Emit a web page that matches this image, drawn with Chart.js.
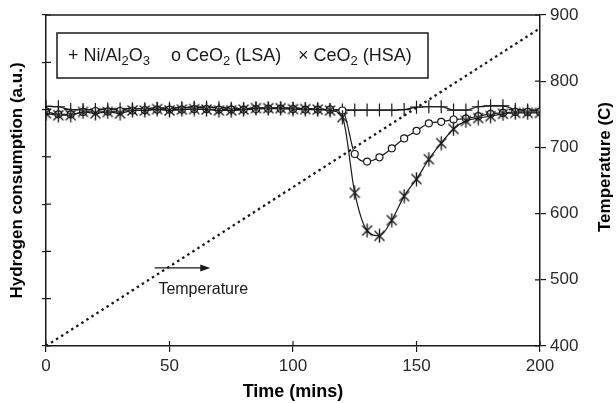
<!DOCTYPE html>
<html>
<head>
<meta charset="utf-8">
<script src="https://cdn.jsdelivr.net/npm/chart.js@4.4.1/dist/chart.umd.min.js"></script>
<style>
  html, body { margin: 0; padding: 0; background: #fff; }
  #wrap { width: 616px; height: 403px; }
</style>
</head>
<body>
<div id="wrap"><canvas id="tprChart"></canvas></div>
<script>
// time axis (mins), one reading every 5 minutes
const times = [0, 5, 10, 15, 20, 25, 30, 35, 40, 45, 50, 55, 60, 65, 70, 75, 80, 85, 90, 95,
  100, 105, 110, 115, 120, 125, 130, 135, 140, 145, 150, 155, 160, 165, 170, 175, 180, 185, 190, 195, 200];

// hydrogen consumption (a.u.)
const niAl2O3 = [5.07, 5.06, 5.0, 5.0, 5.0, 5.01, 5.01, 5.02, 5.02, 5.03, 5.03, 5.04, 5.05, 5.05, 5.04, 5.03, 5.02, 5.03, 5.03, 5.03,
  5.03, 5.02, 5.01, 5.0, 4.99, 4.99, 4.99, 4.99, 4.99, 5.0, 5.05, 5.06, 5.06, 4.99, 4.99, 5.06, 5.08, 5.08, 5.0, 4.99, 4.99];
const ceo2LSA = [4.96, 4.9, 4.9, 4.95, 4.97, 4.96, 4.97, 4.98, 4.99, 5.0, 5.0, 5.0, 5.01, 5.01, 5.0, 5.0, 5.0, 5.01, 5.02, 5.02,
  5.01, 5.0, 5.0, 5.0, 4.98, 4.06, 3.9, 3.99, 4.18, 4.39, 4.55, 4.71, 4.74, 4.79, 4.81, 4.86, 4.91, 4.93, 4.95, 4.95, 4.95];
const ceo2HSA = [4.92, 4.88, 4.88, 4.95, 4.92, 4.95, 4.92, 4.98, 4.98, 5.01, 4.98, 5.0, 5.01, 5.0, 4.98, 4.98, 5.0, 5.03, 5.03, 5.03,
  5.01, 5.01, 5.0, 4.98, 4.84, 3.24, 2.44, 2.33, 2.66, 3.17, 3.53, 3.95, 4.29, 4.59, 4.76, 4.82, 4.86, 4.91, 4.93, 4.93, 4.93];

// temperature ramp (C)
const tempTimes = [0, 200];
const tempValues = [400, 880];

// tick labels
const timeTicks = [0, 50, 100, 150, 200];
const tempTicks = [400, 500, 600, 700, 800, 900];
const h2Ticks = [0, 1, 2, 3, 4, 5, 6, 7];

const INK = "#1a1a1a";
const FONT = "'Liberation Sans', Arial, sans-serif";

function toPoints(xs, ys) {
  return xs.map((x, i) => ({ x: x, y: ys[i] }));
}

// asterisk marker for CeO2 (HSA)
function makeAsterisk() {
  const c = document.createElement("canvas");
  c.width = 15;
  c.height = 15;
  const g = c.getContext("2d");
  g.strokeStyle = INK;
  g.lineWidth = 1.4;
  g.beginPath();
  g.moveTo(2.5, 2.5); g.lineTo(12.5, 12.5);
  g.moveTo(12.5, 2.5); g.lineTo(2.5, 12.5);
  g.moveTo(7.5, 0.5); g.lineTo(7.5, 14.5);
  g.stroke();
  return c;
}

// frame, inner ticks, legend box, arrow note and right title
const decorations = {
  id: "decorations",
  afterDraw(chart) {
    const ctx = chart.ctx;
    const a = chart.chartArea;
    const sx = chart.scales.x, sy = chart.scales.y, sy2 = chart.scales.y2;
    ctx.save();
    ctx.strokeStyle = INK;
    ctx.lineWidth = 1.5;
    ctx.beginPath();
    ctx.moveTo(a.left, a.top);
    ctx.lineTo(a.right, a.top);
    ctx.stroke();

    ctx.lineWidth = 1.2;
    ctx.beginPath();
    timeTicks.forEach(v => {
      const px = sx.getPixelForValue(v);
      ctx.moveTo(px, a.bottom); ctx.lineTo(px, a.bottom - 5);
    });
    h2Ticks.forEach(v => {
      const py = sy.getPixelForValue(v);
      ctx.moveTo(a.left, py); ctx.lineTo(a.left + 5, py);
    });
    tempTicks.forEach(v => {
      const py = sy2.getPixelForValue(v);
      ctx.moveTo(a.right, py); ctx.lineTo(a.right - 5, py);
    });
    ctx.stroke();

    // legend box
    ctx.lineWidth = 1.5;
    ctx.strokeRect(57, 33, 371, 45);
    ctx.fillStyle = INK;
    ctx.textBaseline = "alphabetic";
    ctx.textAlign = "left";
    const base = 61;
    function run(x, parts) {
      parts.forEach(p => {
        if (p.sub) {
          ctx.font = "13px " + FONT;
          ctx.fillText(p.t, x, base + 4);
        } else {
          ctx.font = "18px " + FONT;
          ctx.fillText(p.t, x, base);
        }
        x += ctx.measureText(p.t).width;
      });
    }
    run(68, [{ t: "+ Ni/Al" }, { t: "2", sub: true }, { t: "O" }, { t: "3", sub: true }]);
    run(171, [{ t: "o CeO" }, { t: "2", sub: true }, { t: " (LSA)" }]);
    run(298, [{ t: "\u00d7 CeO" }, { t: "2", sub: true }, { t: " (HSA)" }]);

    // temperature arrow note
    const ax0 = sx.getPixelForValue(44), ax1 = sx.getPixelForValue(66.5);
    const ay = sy2.getPixelForValue(518);
    ctx.lineWidth = 1.4;
    ctx.beginPath();
    ctx.moveTo(ax0, ay); ctx.lineTo(ax1 - 6, ay);
    ctx.stroke();
    ctx.beginPath();
    ctx.moveTo(ax1, ay); ctx.lineTo(ax1 - 10, ay - 3.5); ctx.lineTo(ax1 - 10, ay + 3.5);
    ctx.closePath();
    ctx.fill();
    ctx.font = "16px " + FONT;
    ctx.fillText("Temperature", sx.getPixelForValue(45.5), sy2.getPixelForValue(478));

    // right axis title, reading bottom to top
    ctx.fillStyle = "#000";
    ctx.font = "bold 17px " + FONT;
    ctx.textAlign = "center";
    ctx.textBaseline = "middle";
    ctx.translate(605, 167);
    ctx.rotate(-Math.PI / 2);
    ctx.fillText("Temperature (C)", 0, 0);
    ctx.restore();
  },
};

const ctx = document.getElementById("tprChart").getContext("2d");
const lineBase = {
  borderColor: INK,
  borderWidth: 1.2,
  pointBorderColor: INK,
  pointBorderWidth: 1.2,
  cubicInterpolationMode: "monotone",
  yAxisID: "y",
};

const tprChart = new Chart(ctx, {
  type: "line",
  data: {
    datasets: [
      {
        ...lineBase,
        label: "CeO2 (HSA)",
        data: toPoints(times, ceo2HSA),
        pointStyle: makeAsterisk(),
        pointRadius: 6,
      },
      {
        ...lineBase,
        label: "CeO2 (LSA)",
        data: toPoints(times, ceo2LSA),
        pointStyle: "circle",
        pointRadius: 3.5,
        pointBackgroundColor: "#fff",
      },
      {
        ...lineBase,
        label: "Ni/Al2O3",
        data: toPoints(times, niAl2O3),
        pointStyle: "cross",
        pointRadius: 6.5,
      },
      {
        label: "Temperature",
        data: toPoints(tempTimes, tempValues),
        yAxisID: "y2",
        borderColor: INK,
        borderWidth: 2.3,
        borderDash: [2.5, 3.5],
        pointRadius: 0,
      },
    ],
  },
  options: {
    responsive: true,
    maintainAspectRatio: false,
    animation: false,
    layout: { padding: { top: 15, left: 0, right: 0, bottom: 0 } },
    plugins: {
      legend: { display: false },
      tooltip: { enabled: false },
    },
    scales: {
      x: {
        type: "linear",
        min: 0,
        max: 200,
        afterBuildTicks: (s) => { s.ticks = timeTicks.map(v => ({ value: v })); },
        afterFit: (s) => { s.height = 57; },
        grid: { drawOnChartArea: false, tickLength: 6, color: INK, lineWidth: 1.2 },
        border: { color: INK, width: 1.5 },
        ticks: { color: "#2a2a2a", padding: 4, font: { family: FONT, size: 17 } },
        title: {
          display: true,
          text: "Time (mins)",
          color: "#000",
          font: { family: FONT, size: 18, weight: "bold" },
          padding: { top: 0, bottom: 0 },
        },
      },
      y: {
        position: "left",
        min: 0,
        max: 7,
        afterBuildTicks: (s) => { s.ticks = h2Ticks.map(v => ({ value: v })); },
        afterFit: (s) => { s.width = 46; },
        grid: { drawOnChartArea: false, tickLength: 4, color: INK, lineWidth: 1.2 },
        border: { color: INK, width: 1.5 },
        ticks: { display: false },
        title: {
          display: true,
          text: "Hydrogen consumption (a.u.)",
          color: "#000",
          font: { family: FONT, size: 17, weight: "bold" },
          padding: { top: 7, bottom: 0 },
        },
      },
      y2: {
        position: "right",
        min: 400,
        max: 900,
        afterBuildTicks: (s) => { s.ticks = tempTicks.map(v => ({ value: v })); },
        afterFit: (s) => { s.width = 76; },
        grid: { drawOnChartArea: false, tickLength: 6, color: INK, lineWidth: 1.2 },
        border: { color: INK, width: 1.5 },
        ticks: { color: "#2a2a2a", padding: 4, font: { family: FONT, size: 17 } },
      },
    },
  },
  plugins: [decorations],
});
</script>
</body>
</html>
